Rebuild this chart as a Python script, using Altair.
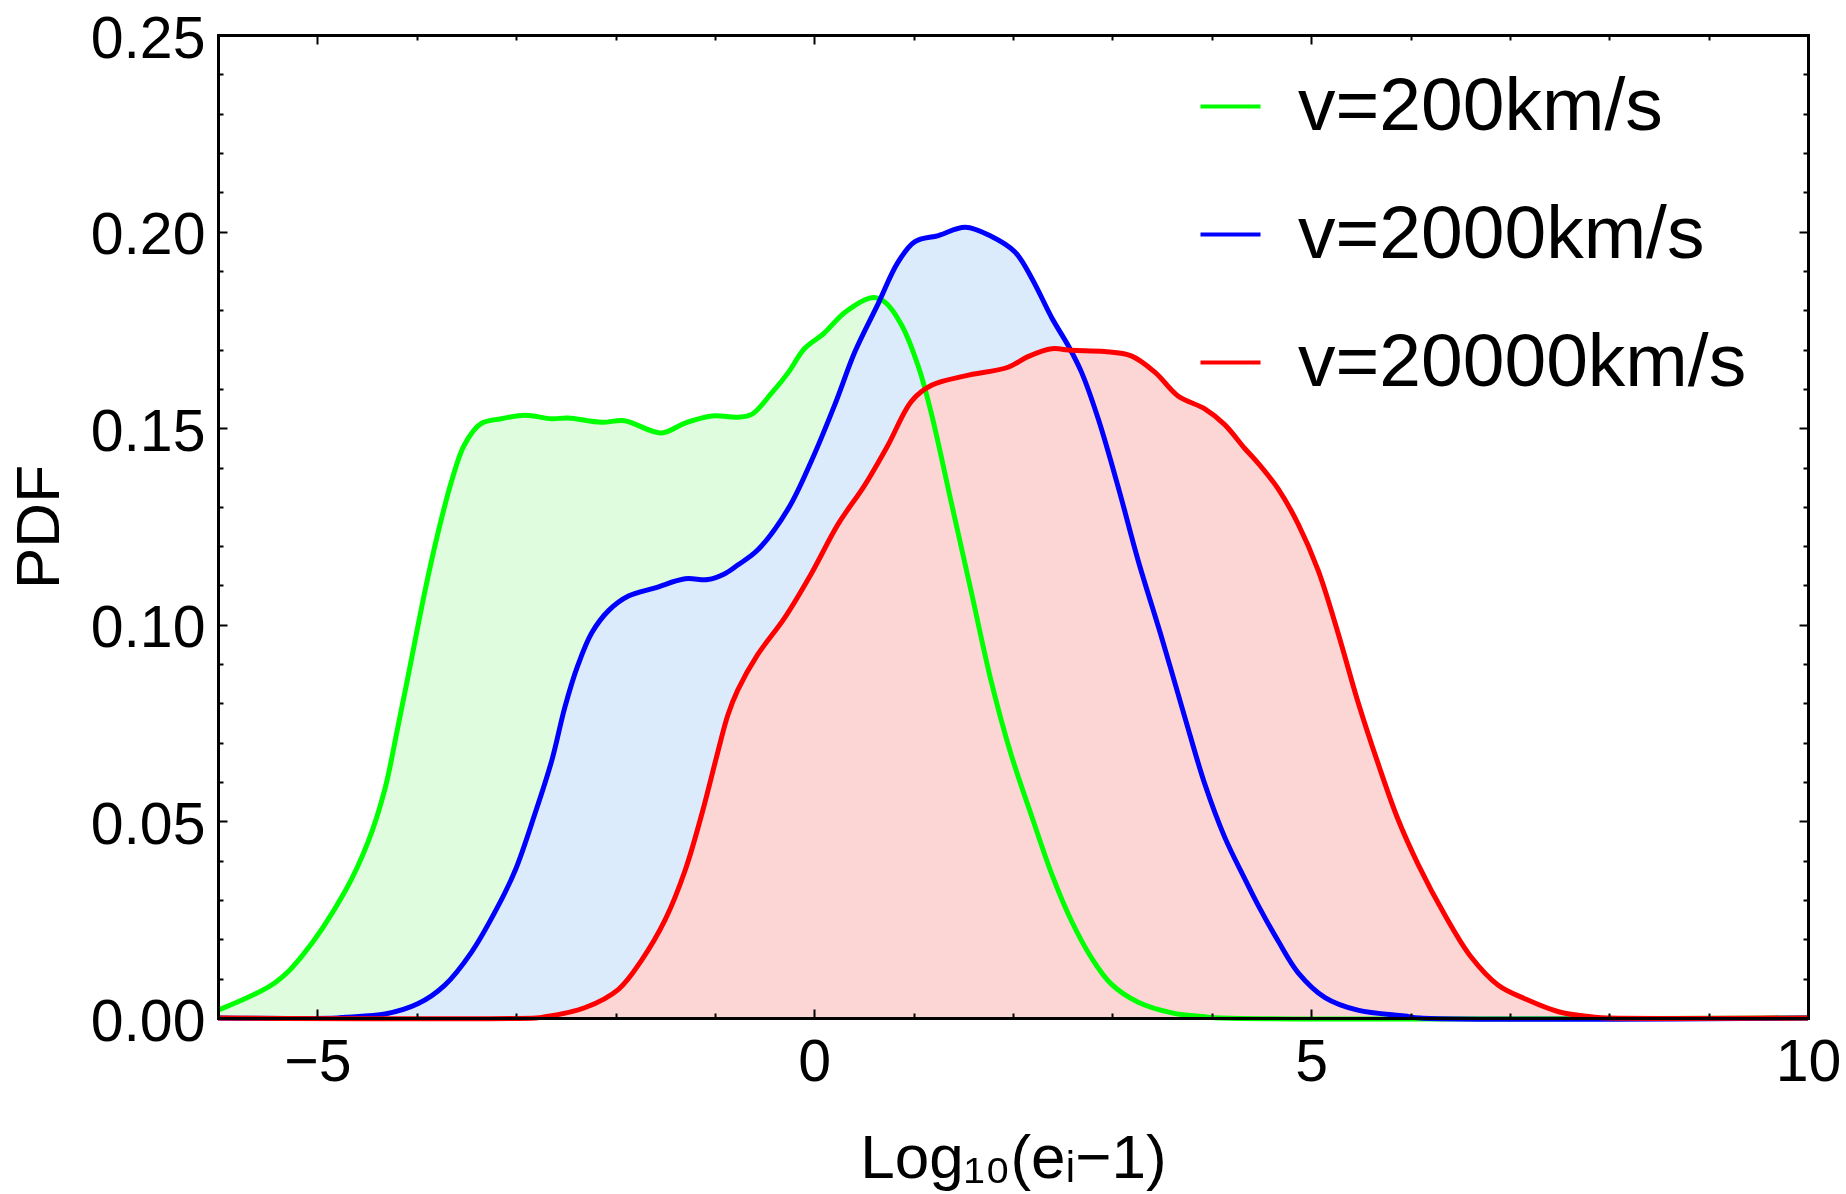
import altair as alt
import pandas as pd

# Series labels and colours
labels = ["v=200km/s", "v=2000km/s", "v=20000km/s"]
line_colors = ["#00ff00", "#0000ff", "#ff0000"]
fill_colors = ["#dffcdf", "#dcebfb", "#fcd5d5"]

# v = 200 km/s
x_200 = [-6.0, -5.43, -5.16, -4.72, -4.49, -4.32, -4.19, -4.05, -3.92, -3.79,
         -3.65, -3.52, -3.35, -3.15, -2.91, -2.64, -2.48, -2.14, -1.91, -1.54,
         -1.30, -1.03, -0.77, -0.63, -0.43, -0.26, -0.10, 0.10, 0.31, 0.58,
         0.71, 0.88, 1.05, 1.18, 1.38, 1.58, 1.78, 1.98, 2.19, 2.39,
         2.59, 2.79, 2.99, 3.26, 3.60, 3.93, 4.10, 10.0]
pdf_200 = [0.0020, 0.0089, 0.0156, 0.0323, 0.0448, 0.0583, 0.0740, 0.0917, 0.1083, 0.1230,
           0.1365, 0.1458, 0.1512, 0.1524, 0.1533, 0.1524, 0.1526, 0.1515, 0.1519, 0.1488,
           0.1513, 0.1531, 0.1528, 0.1535, 0.1589, 0.1642, 0.1702, 0.1742, 0.1795, 0.1832,
           0.1821, 0.1762, 0.1655, 0.1536, 0.1310, 0.1084, 0.0857, 0.0671, 0.0512, 0.0366,
           0.0246, 0.0153, 0.0086, 0.0040, 0.0013, 0.0003, 0.0, 0.0]

# v = 2000 km/s
x_2000 = [-6.0, -4.80, -4.72, -4.32, -3.99, -3.72, -3.45, -3.21, -3.01, -2.81,
          -2.64, -2.51, -2.38, -2.24, -2.07, -1.87, -1.60, -1.30, -1.07, -0.90,
          -0.77, -0.57, -0.26, -0.03, 0.21, 0.41, 0.64, 0.84, 1.01, 1.25,
          1.52, 1.78, 2.02, 2.19, 2.39, 2.56, 2.69, 2.86, 3.06, 3.26,
          3.50, 3.73, 3.93, 4.13, 4.33, 4.47, 4.67, 4.87, 5.14, 5.47,
          5.94, 6.10, 10.0]
pdf_2000 = [0.0, 0.0, 0.0002, 0.0010, 0.0036, 0.0083, 0.0167, 0.0271, 0.0375, 0.0520,
            0.0656, 0.0790, 0.0896, 0.0979, 0.1036, 0.1073, 0.1094, 0.1117, 0.1115, 0.1130,
            0.1152, 0.1190, 0.1296, 0.1416, 0.1562, 0.1695, 0.1815, 0.1921, 0.1974, 0.1990,
            0.2011, 0.1988, 0.1948, 0.1881, 0.1781, 0.1708, 0.1642, 0.1522, 0.1349, 0.1163,
            0.0964, 0.0764, 0.0595, 0.0460, 0.0355, 0.0285, 0.0195, 0.0115, 0.0052, 0.0020,
            0.0005, 0.0, 0.0]

# v = 20000 km/s
x_20000 = [-6.0, -2.80, -2.73, -2.31, -1.97, -1.74, -1.50, -1.30, -1.13, -0.97,
           -0.87, -0.77, -0.57, -0.30, -0.03, 0.24, 0.51, 0.74, 0.98, 1.18,
           1.52, 1.95, 2.15, 2.39, 2.59, 2.92, 3.19, 3.43, 3.66, 3.93,
           4.13, 4.33, 4.47, 4.67, 4.87, 5.07, 5.27, 5.47, 5.67, 5.87,
           6.08, 6.35, 6.61, 6.88, 7.15, 7.49, 7.86, 8.00, 10.0]
pdf_20000 = [0.0, 0.0, 0.0002, 0.0026, 0.0073, 0.0146, 0.0250, 0.0375, 0.0520, 0.0677,
             0.0770, 0.0834, 0.0924, 0.1017, 0.1130, 0.1256, 0.1356, 0.1456, 0.1569, 0.1609,
             0.1633, 0.1655, 0.1682, 0.1702, 0.1698, 0.1695, 0.1684, 0.1642, 0.1582, 0.1549,
             0.1509, 0.1449, 0.1410, 0.1345, 0.1256, 0.1139, 0.0980, 0.0805, 0.0650, 0.0508,
             0.0389, 0.0260, 0.0155, 0.0084, 0.0049, 0.0016, 0.0002, 0.0, 0.0]

# Tick positions
x_major = [-5, 0, 5, 10]
x_major_inner = [-5, 0, 5]
x_minor = [-4, -3, -2, -1, 1, 2, 3, 4, 6, 7, 8, 9]
y_major = [0.0, 0.05, 0.10, 0.15, 0.20, 0.25]
y_major_inner = [0.05, 0.10, 0.15, 0.20]
y_minor = [round(0.01 * k, 2) for k in range(1, 25) if k % 5 != 0]

frames = []
for lab, xs_, ys_ in zip(labels, [x_200, x_2000, x_20000], [pdf_200, pdf_2000, pdf_20000]):
    frames.append(pd.DataFrame({"x": xs_, "pdf": ys_, "series": lab}))
df = pd.concat(frames, ignore_index=True)

W, H = 1590, 983
FONT = "Liberation Sans"
CURVE = "catmull-rom"

x_scale = alt.Scale(domain=[-6, 10], nice=False, zero=False)
y_scale = alt.Scale(domain=[0, 0.25], nice=False, zero=False)


def frame_axis(orient):
    return alt.Axis(orient=orient, domain=True, domainColor="black", domainWidth=3,
                    domainCap="square", ticks=False, labels=False, grid=False,
                    title=None, zindex=2)


def tick_axis(orient, values, size, offset):
    return alt.Axis(orient=orient, offset=offset, values=values, domain=False,
                    labels=False, grid=False, ticks=True, tickSize=size, tickWidth=2,
                    tickColor="black", title=None, zindex=2)


x_main = alt.Axis(orient="bottom", values=x_major, domain=True, domainColor="black",
                  domainWidth=3, domainCap="square", ticks=False, tickSize=0,
                  labelFont=FONT, labelFontSize=59, labelColor="black", labelPadding=15,
                  labelFlush=False, labelOverlap=False, grid=False,
                  title="Log₁₀(eᵢ−1)", titleFont=FONT, titleFontSize=62,
                  titleFontWeight="normal", titleColor="black", titlePadding=36, zindex=2)
y_main = alt.Axis(orient="left", values=y_major, format=".2f", domain=True,
                  domainColor="black", domainWidth=3, domainCap="square", ticks=False,
                  tickSize=0, labelFont=FONT, labelFontSize=59, labelColor="black",
                  labelPadding=13, labelFlush=False, labelOverlap=False, labelOffset=4,
                  grid=False, title="PDF", titleFont=FONT, titleFontSize=62,
                  titleFontWeight="normal", titleColor="black", titlePadding=19, zindex=2)

x_axes = [
    x_main,
    frame_axis("top"),
    tick_axis("top", x_major_inner, 9, -H),      # bottom edge, pointing up
    tick_axis("top", x_minor, 5, -H),
    tick_axis("bottom", x_major_inner, 9, -H),   # top edge, pointing down
    tick_axis("bottom", x_minor, 5, -H),
]
y_axes = [
    y_main,
    frame_axis("right"),
    tick_axis("right", y_major_inner, 9, -W),    # left edge, pointing right
    tick_axis("right", y_minor, 5, -W),
    tick_axis("left", y_major_inner, 9, -W),     # right edge, pointing left
    tick_axis("left", y_minor, 5, -W),
]

legend = alt.Legend(title=None, orient="none", legendX=975, legendY=34,
                    symbolType="stroke", symbolSize=3600, symbolStrokeWidth=4,
                    labelFont=FONT, labelFontSize=75, labelColor="black",
                    labelLimit=2000, labelOffset=30, rowPadding=52, padding=0)
color = alt.Color("series:N", scale=alt.Scale(domain=labels, range=line_colors),
                  legend=legend)

base = alt.Chart(df)
layers = []
# Filled areas, drawn in order so later series cover earlier ones
for i, lab in enumerate(labels):
    layers.append(
        base.transform_filter(alt.datum.series == lab)
        .mark_area(color=fill_colors[i], interpolate=CURVE)
        .encode(x=alt.X("x:Q", scale=x_scale, axis=x_axes[i]),
                y=alt.Y("pdf:Q", scale=y_scale, axis=y_axes[i], stack=None))
    )
# Curves on top of the fills
for i, lab in enumerate(labels):
    layers.append(
        base.transform_filter(alt.datum.series == lab)
        .mark_line(strokeWidth=5, interpolate=CURVE)
        .encode(x=alt.X("x:Q", scale=x_scale, axis=x_axes[3 + i]),
                y=alt.Y("pdf:Q", scale=y_scale, axis=y_axes[3 + i]),
                color=color)
    )

chart = (
    alt.layer(*layers)
    .resolve_axis(x="independent", y="independent")
    .properties(width=W, height=H,
                padding={"left": 218, "top": 35, "right": 38, "bottom": 176},
                autosize=alt.AutoSizeParams(type="none"),
                background="white")
    .configure_view(stroke=None)
)

chart.save("out.html", embed_options={"renderer": "svg", "actions": False})
